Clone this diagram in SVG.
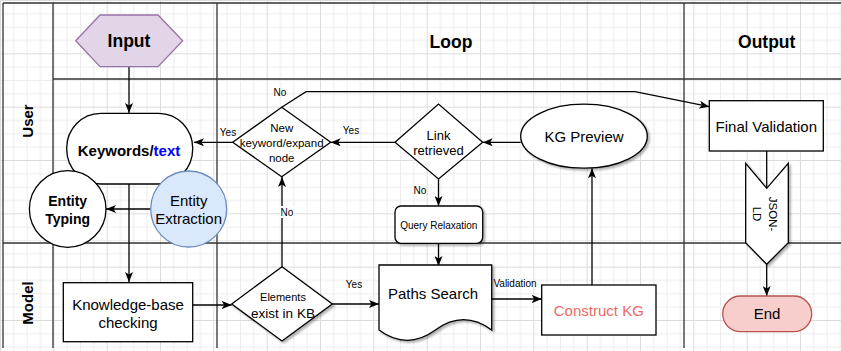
<svg xmlns="http://www.w3.org/2000/svg" width="841" height="351" viewBox="0 0 841 351">
<defs>
  <pattern id="grid" patternUnits="userSpaceOnUse" x="0" y="0" width="53.333" height="53.333">
    <path d="M0,13.83 H53.333 M0,27.17 H53.333 M0,40.5 H53.333 M13.83,0 V53.333 M27.17,0 V53.333 M40.5,0 V53.333" stroke="#ececec" stroke-width="1" fill="none"/>
    <path d="M0,0.5 H53.333 M0.5,0 V53.333" stroke="#dcdcdc" stroke-width="1" fill="none"/>
  </pattern>
  <filter id="shadow" x="-20%" y="-20%" width="150%" height="150%">
    <feDropShadow dx="2" dy="2" stdDeviation="1" flood-color="#000" flood-opacity="0.3"/>
  </filter>
  <marker id="arrow" markerUnits="userSpaceOnUse" viewBox="0 0 10 8" markerWidth="10" markerHeight="8" refX="10" refY="4" orient="auto">
    <path d="M0,0 L10,4 L0,8 L2.5,4 Z" fill="#000"/>
  </marker>
  <style>
    text { font-family: "Liberation Sans", Arial, sans-serif; fill: #000; text-anchor: middle; }
    .lane { stroke: #333; stroke-width: 1.3; fill: none; }
    .node { stroke: #000; stroke-width: 1.3; fill: #fff; }
    .edge { stroke: #000; stroke-width: 1.3; fill: none; }
    .arr { marker-end: url(#arrow); }
    .hdr { font-size: 17.5px; font-weight: bold; }
    .lbl { font-size: 10px; }
  </style>
</defs>

<rect x="0" y="0" width="841" height="351" fill="#fff"/>
<rect x="0" y="0" width="841" height="351" fill="url(#grid)"/>

<g id="lanes">
  <path class="lane" d="M3,3 H841 M3,3 V348 M53,3 V348 M217,3 V348 M684,3 V348 M53,79 H841 M3,243 H841"/>
  <text class="hdr" x="451" y="48">Loop</text>
  <text class="hdr" x="766.7" y="48">Output</text>
  <text transform="translate(28,121) rotate(-90)" y="5.3" style="font-size:15px;font-weight:bold">User</text>
  <text transform="translate(28,303) rotate(-90)" y="5.3" style="font-size:15px;font-weight:bold">Model</text>
</g>

<g id="connectors">
  <path class="edge arr" d="M129,67 V113"/>
  <path class="edge arr" d="M129,184 V282"/>
  <path class="edge arr" d="M150.7,209 H106"/>
  <path class="edge arr" d="M192.7,305 H231.7"/>
  <path class="edge arr" d="M282,266.7 V177"/>
  <path class="edge arr" d="M232.7,142.3 H194"/>
  <path class="edge arr" d="M395,142.3 H330.7"/>
  <path class="edge arr" d="M520.7,142.3 H482.7"/>
  <path class="edge arr" d="M438.5,179 V206"/>
  <path class="edge arr" d="M438.5,243.3 V266"/>
  <path class="edge arr" d="M332.3,304 H379"/>
  <path class="edge arr" d="M491.7,299 H541.7"/>
  <path class="edge arr" d="M592,285 V168.3"/>
  <path class="edge arr" d="M281.7,107.3 L306,91.7 H635 L709.3,106.7"/>
  <path class="edge arr" d="M766.7,264.3 V296"/>
  <rect x="280" y="206" width="14" height="12" fill="#fff"/>
  <text class="lbl" x="287" y="215.5">No</text>
  <text class="lbl" x="280" y="95.5">No</text>
  <text class="lbl" x="228" y="135.5">Yes</text>
  <text class="lbl" x="351" y="133.5">Yes</text>
  <text class="lbl" x="420" y="194.2">No</text>
  <text class="lbl" x="354" y="287.8">Yes</text>
  <text class="lbl" x="515" y="286.8">Validation</text>
</g>

<g id="input">
  <polygon points="75.7,40.7 100,15 158,15 182.7,40.7 158,66.7 100,66.7" fill="#e1d5e7" stroke="#9673a6" stroke-width="1.3"/>
  <text class="hdr" x="129" y="47.3">Input</text>
</g>

<g id="keywords">
  <rect class="node" x="66.7" y="113.3" width="126" height="70.7" rx="34" ry="35"/>
  <text x="129" y="156.3" style="font-size:15px;font-weight:bold">Keywords/<tspan style="fill:#0000ff">text</tspan></text>
</g>

<g id="entity-typing">
  <circle class="node" cx="67.7" cy="209" r="38.3"/>
  <text x="67.7" y="205.5" style="font-size:14px;font-weight:bold">Entity</text>
  <text x="67.7" y="224" style="font-size:14px;font-weight:bold">Typing</text>
</g>

<g id="entity-extraction">
  <circle cx="188.7" cy="209" r="38" fill="#dae8fc" stroke="#6c8ebf" stroke-width="1.3"/>
  <text x="188.7" y="206" style="font-size:15px">Entity</text>
  <text x="188.7" y="224.3" style="font-size:15px">Extraction</text>
</g>

<g id="kb-checking">
  <rect class="node" x="63.3" y="282.7" width="129.4" height="59"/>
  <text x="128" y="310.3" style="font-size:15px">Knowledge-base</text>
  <text x="128" y="328.3" style="font-size:15px">checking</text>
</g>

<g id="elements-exist">
  <polygon class="node" filter="url(#shadow)" points="231.7,304 282,266.7 332.3,304 282,341"/>
  <text x="283" y="300.6" style="font-size:11px">Elements</text>
  <text x="283" y="317.7" style="font-size:13.5px">exist in KB</text>
</g>

<g id="new-keyword">
  <polygon class="node" points="232.7,142.3 281.7,107.3 330.7,142.3 281.7,176.7"/>
  <text x="281.7" y="131.7" style="font-size:11.5px">New</text>
  <text x="281.7" y="146.7" style="font-size:11.5px">keyword/expand</text>
  <text x="281.7" y="161.7" style="font-size:11.5px">node</text>
</g>

<g id="link-retrieved">
  <polygon class="node" points="395,142.3 438.5,104 482.7,142.3 438.5,179"/>
  <text x="438.5" y="139.6" style="font-size:13px">Link</text>
  <text x="438.5" y="154.6" style="font-size:13px">retrieved</text>
</g>

<g id="kg-preview">
  <ellipse class="node" filter="url(#shadow)" cx="584" cy="136.2" rx="63.3" ry="32"/>
  <text x="584" y="142" style="font-size:15px">KG Preview</text>
</g>

<g id="query-relaxation">
  <rect class="node" filter="url(#shadow)" x="395" y="206" width="87.7" height="37.3" rx="6"/>
  <text x="438.8" y="228.5" style="font-size:10px">Query Relaxation</text>
</g>

<g id="paths-search">
  <path class="node" filter="url(#shadow)" d="M379,265 H491.7 V330 Q463.5,309.3 435.35,330 Q407.2,350.7 379,330 Z"/>
  <text x="433" y="298.6" style="font-size:15px">Paths Search</text>
</g>

<g id="construct-kg">
  <rect class="node" x="541.7" y="285" width="114.3" height="50"/>
  <text x="598.8" y="316.3" style="font-size:15px;fill:#ea6b66">Construct KG</text>
</g>

<g id="final-validation">
  <rect class="node" x="709.3" y="100.7" width="114" height="50.3"/>
  <text x="766.3" y="132" style="font-size:15px">Final Validation</text>
</g>

<g id="json-ld">
  <polygon class="node" filter="url(#shadow)" points="745.7,163.3 766.7,188.3 788.3,163.3 788.3,242.7 766.7,264.3 745.7,242.7"/>
  <path class="edge" d="M766.7,151 V188.3"/>
  <text transform="translate(765,214) rotate(90)" style="font-size:11.5px"><tspan x="0" y="-3.8">JSON-</tspan><tspan x="0" y="11.6">LD</tspan></text>
</g>

<g id="end">
  <rect x="722.7" y="296" width="89" height="35.7" rx="17.85" fill="#f8cecc" stroke="#b85450" stroke-width="1.3"/>
  <text x="767" y="319.3" style="font-size:15px">End</text>
</g>
</svg>
